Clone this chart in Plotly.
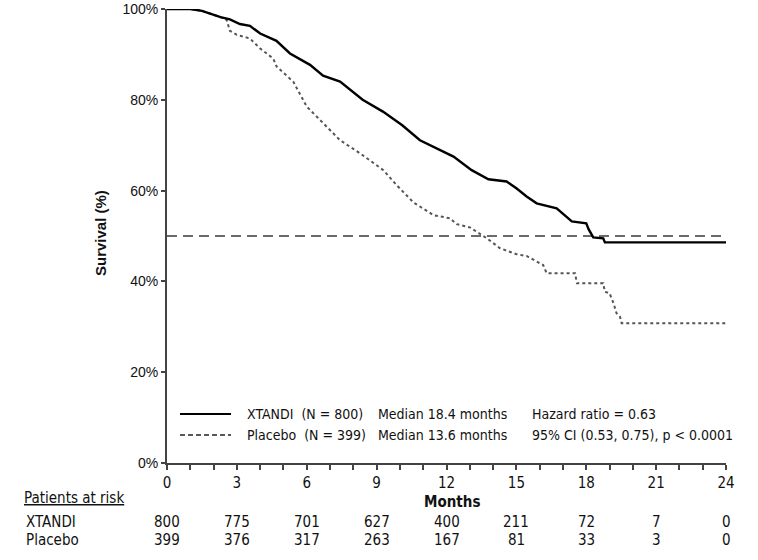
import plotly.graph_objects as go

# ---- data ----
xtandi_months = [0, 1.0, 1.5, 1.85, 2.3, 2.7, 3.13, 3.56, 4.0, 4.7, 5.28, 6.14, 6.7, 7.43,
                 8.4, 9.27, 10.1, 10.86, 11.58, 12.3, 13.08, 13.8, 14.58, 15.0, 15.44,
                 15.87, 16.73, 17.1, 17.38, 18.0, 18.1, 18.3, 18.73, 18.8, 24]
xtandi_surv = [100, 100, 99.6, 99, 98.2, 97.7, 96.7, 96.3, 94.6, 93, 90.2, 87.7, 85.3, 84,
               80, 77.4, 74.4, 71.1, 69.3, 67.5, 64.5, 62.5, 62, 60.5, 58.7,
               57.2, 56.1, 54.5, 53.2, 52.8, 51.5, 49.7, 49.5, 48.6, 48.6]

placebo_months = [0, 1.0, 1.5, 1.85, 2.3, 2.56, 2.7, 3.0, 3.56, 4.0, 4.56, 4.71, 5.42, 6.0,
                  6.71, 7.43, 8.29, 9.29, 9.86, 10.58, 11.44, 12.15, 12.44, 13.0, 13.73,
                  14.3, 15.0, 15.44, 16.15, 16.3, 17.52, 17.6, 18.73, 18.8, 19.0, 19.17,
                  19.3, 19.45, 19.52, 24]
placebo_surv = [100, 100, 99.6, 99, 98.2, 97.6, 95.2, 94.3, 93.5, 91.3, 89.1, 87.3, 84, 78.5,
                74.8, 71.1, 68.2, 64.5, 61.2, 57.4, 54.6, 53.9, 52.6, 51.9, 49.5,
                47.3, 46, 45.6, 43.6, 41.8, 41.8, 39.6, 39.6, 37.7, 37.4, 35.2,
                33, 32.2, 30.8, 30.8]

median_ref_x = [0, 24]
median_ref_y = [50, 50]

risk_months = [0, 3, 6, 9, 12, 15, 18, 21, 24]
risk_xtandi = [800, 775, 701, 627, 400, 211, 72, 7, 0]
risk_placebo = [399, 376, 317, 263, 167, 81, 33, 3, 0]

y_ticks = [0, 20, 40, 60, 80, 100]
x_ticks = [0, 3, 6, 9, 12, 15, 18, 21, 24]

legend_rows = [
    ("XTANDI  (N = 800)", "Median 18.4 months", "Hazard ratio = 0.63"),
    ("Placebo  (N = 399)", "Median 13.6 months", "95% CI (0.53, 0.75), p < 0.0001"),
]

NARROW = "Liberation Sans Narrow, DejaVu Sans Condensed, Arial Narrow, sans-serif"
REG = "Liberation Sans, Arial, Helvetica, sans-serif"

# page offset of the figure (body margin removed below)
OFF = 0
# plot area in screenshot pixels
PX_L, PX_R, PX_T, PX_B = 167, 726, 9, 463

fig = go.Figure()
fig.add_trace(go.Scatter(x=median_ref_x, y=median_ref_y, mode="lines",
                         line=dict(color="#3a3a3a", width=1.6, dash="10px,6px"),
                         showlegend=False, hoverinfo="skip"))
fig.add_trace(go.Scatter(x=placebo_months, y=placebo_surv, mode="lines",
                         line=dict(color="#555555", width=2, dash="dot"),
                         showlegend=False, name="Placebo"))
fig.add_trace(go.Scatter(x=xtandi_months, y=xtandi_surv, mode="lines",
                         line=dict(color="#000000", width=2.4),
                         showlegend=False, name="XTANDI"))

W, H = 758 - OFF, 560 - OFF
fig.update_layout(
    width=W, height=H,
    margin=dict(l=PX_L - OFF, r=W - (PX_R - OFF), t=PX_T - OFF, b=H - (PX_B - OFF),
                autoexpand=False),
    paper_bgcolor="white", plot_bgcolor="white",
    font=dict(family=NARROW, size=14, color="#111111"),
    xaxis=dict(range=[0, 24], tickvals=x_ticks, ticks="outside", ticklen=5, tickwidth=1.5,
               tickcolor="#444", showline=True, linecolor="#444", linewidth=2,
               showgrid=False, zeroline=False, automargin=False,
               minor=dict(dtick=1, ticks="outside", ticklen=5, tickwidth=1.5,
                          tickcolor="#444", showgrid=False),
               tickfont=dict(family=NARROW, size=15, color="#111")),
    yaxis=dict(range=[0, 100], tickvals=y_ticks, ticktext=[f"{v}%" for v in y_ticks],
               ticks="outside", ticklen=4, tickwidth=1.5, tickcolor="#444",
               ticklabeloverflow="allow", automargin=False,
               showline=True, linecolor="#444", linewidth=2, showgrid=False, zeroline=False,
               tickfont=dict(family=REG, size=14, color="#111")),
)

def px_to_paper_x(px):
    return (px - PX_L) / (PX_R - PX_L)

def px_to_paper_y(py):
    return (PX_B - py) / (PX_B - PX_T)

ann = []
# axis titles
ann.append(dict(text="<b>Survival (%)</b>", xref="paper", yref="paper",
                x=px_to_paper_x(101), y=px_to_paper_y(233), textangle=-90, showarrow=False,
                xanchor="center", yanchor="middle",
                font=dict(family=REG, size=15, color="#111")))
ann.append(dict(text="<b>Months</b>", xref="paper", yref="paper",
                x=px_to_paper_x(452), y=px_to_paper_y(502), showarrow=False,
                xanchor="center", yanchor="middle",
                font=dict(family=NARROW, size=15, color="#111")))

# legend text
row_y = [414, 435]
col_x = [245, 376, 530]
for r, row in enumerate(legend_rows):
    for c, txt in enumerate(row):
        ann.append(dict(text=txt, xref="paper", yref="paper", x=px_to_paper_x(col_x[c]),
                        y=px_to_paper_y(row_y[r]), xanchor="left", yanchor="middle",
                        showarrow=False, font=dict(family=NARROW, size=14, color="#111")))

# risk table
ann.append(dict(text="<u>Patients at risk</u>", xref="paper", yref="paper",
                x=px_to_paper_x(22), y=px_to_paper_y(498), xanchor="left", yanchor="middle",
                showarrow=False, font=dict(family=NARROW, size=15, color="#111")))
for label, vals, py in [("XTANDI", risk_xtandi, 522), ("Placebo", risk_placebo, 540)]:
    ann.append(dict(text=label, xref="paper", yref="paper", x=px_to_paper_x(24),
                    y=px_to_paper_y(py), xanchor="left", yanchor="middle", showarrow=False,
                    font=dict(family=NARROW, size=15, color="#111")))
    for m, v in zip(risk_months, vals):
        ann.append(dict(text=str(v), xref="x", yref="paper", x=m, y=px_to_paper_y(py),
                        xanchor="center", yanchor="middle", showarrow=False,
                        font=dict(family=NARROW, size=15, color="#111")))
fig.update_layout(annotations=ann)

# legend line samples
fig.add_shape(type="line", xref="paper", yref="paper",
              x0=px_to_paper_x(180), x1=px_to_paper_x(231),
              y0=px_to_paper_y(414), y1=px_to_paper_y(414),
              line=dict(color="#000", width=2.2))
fig.add_shape(type="line", xref="paper", yref="paper",
              x0=px_to_paper_x(180), x1=px_to_paper_x(231),
              y0=px_to_paper_y(435), y1=px_to_paper_y(435),
              line=dict(color="#222", width=1.6, dash="5px,3px"))

fig.write_html("out.html", config={"displayModeBar": False},
               post_script="document.body.style.margin='0px';document.body.style.overflow='hidden';")
